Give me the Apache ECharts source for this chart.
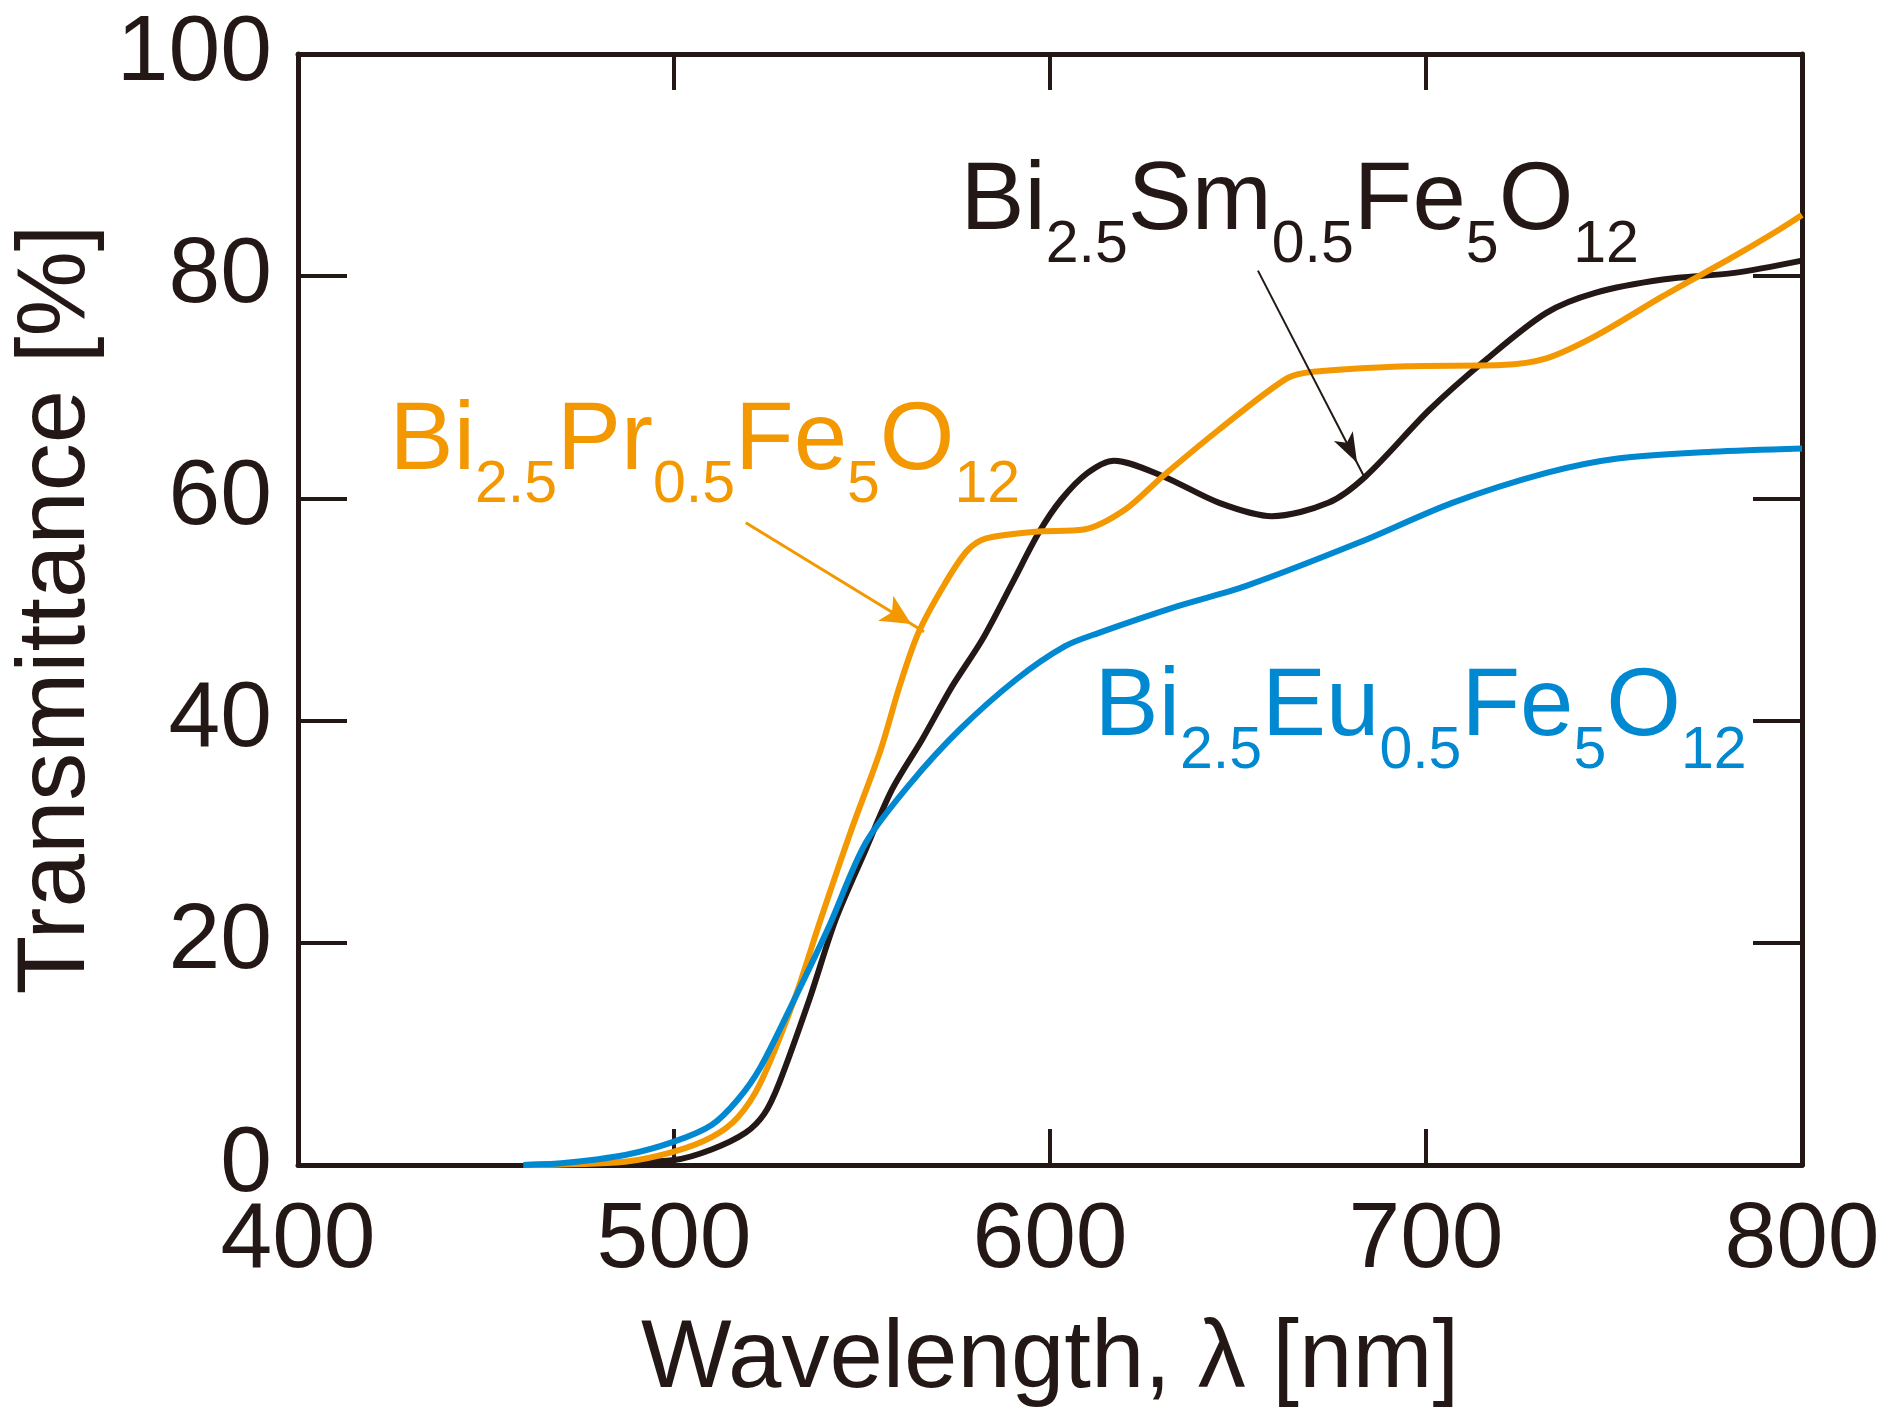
<!DOCTYPE html>
<html>
<head>
<meta charset="utf-8">
<script src="https://cdn.jsdelivr.net/npm/echarts@6/dist/echarts.min.js"></script>
<style>
  html, body { margin: 0; padding: 0; background: #fff; }
  #chart { width: 1891px; height: 1426px; }
</style>
</head>
<body>
<div id="chart"></div>
<script>
// values (wavelength nm, transmittance %)
const wlSm = [460, 480, 500, 510, 519, 524, 528, 536, 543, 551, 558, 566, 574, 582, 590, 597, 603, 610, 617, 630, 645, 659, 674, 684, 701, 716, 732, 745, 763, 782, 800];
const tSm  = [0, 0.15, 0.45, 1.4, 2.9, 4.6, 7.4, 14.9, 22.1, 28.4, 33.8, 38.3, 43.1, 47.3, 52.4, 56.9, 59.9, 62.3, 63.4, 62.0, 59.6, 58.4, 59.6, 62.0, 68.0, 72.5, 76.7, 78.5, 79.7, 80.3, 81.4];

const wlPr = [460, 487, 500, 510, 517, 523, 532, 539, 547, 555, 560, 565, 572, 578, 583, 596, 609, 620, 630, 645, 663, 670, 695, 720, 732, 745, 763, 782, 794, 800];
const tPr  = [0, 0.3, 1.2, 2.5, 4.3, 7.4, 14.9, 22.1, 30.0, 37.4, 43.1, 47.9, 52.3, 55.3, 56.4, 57.0, 57.2, 59.0, 62.0, 66.2, 70.8, 71.4, 71.9, 72.0, 72.6, 74.6, 78.2, 81.8, 84.2, 85.5];

const wlEu = [460, 470, 487, 500, 510, 517, 523, 532, 541, 551, 563, 576, 591, 604, 613, 634, 652, 682, 707, 732, 751, 776, 800];
const tEu  = [0, 0.15, 0.9, 2.1, 3.6, 5.9, 8.8, 14.9, 21.3, 29.0, 34.4, 39.2, 43.7, 46.7, 47.9, 50.3, 52.1, 56.0, 59.6, 62.3, 63.6, 64.2, 64.5];

const xTicks = [400, 500, 600, 700, 800];
const yTicks = [0, 20, 40, 60, 80, 100];

// annotation anchors (top-left of label box) and arrows, in data units
const labelSm = [576.3, 90.9];
const labelPr = [424.5, 69.3];
const labelEu = [612.0, 45.4];
const arrowSm = [[655.3, 80.5], [683.5, 62.0]];
const arrowPr = [[519.1, 57.8], [566.5, 48.0]];

const ink = '#231815';
const orange = '#F39800';
const blue = '#0088D1';
const font = '"Liberation Sans", Arial, Helvetica, sans-serif';

const zip = (xs, ys) => xs.map((x, i) => [x, ys[i]]);

function formula(dopant) {
  return `{m|Bi}{s|2.5}{m|${dopant}}{s|0.5}{m|Fe}{s|5}{m|O}{s|12}`;
}

function richFor(color) {
  return {
    m: { fontSize: 96, lineHeight: 96, verticalAlign: 'top', color, fontFamily: font },
    s: { fontSize: 59, lineHeight: 59, verticalAlign: 'top', color, fontFamily: font, padding: [62, 0, 0, 0] }
  };
}

function labelMark(coord, dopant, color) {
  return {
    silent: true,
    animation: false,
    symbol: 'circle',
    symbolSize: 1,
    itemStyle: { color: 'rgba(0,0,0,0)' },
    label: {
      show: true,
      position: [0, 0],
      align: 'left',
      verticalAlign: 'top',
      formatter: formula(dopant),
      rich: richFor(color)
    },
    data: [{ coord }]
  };
}

function arrowMark(pts, color, width, size) {
  return {
    silent: true,
    animation: false,
    symbol: ['none', 'arrow'],
    symbolSize: size,
    symbolOffset: [0, [0, size[1] / 2]],
    lineStyle: { color, width, type: 'solid' },
    label: { show: false },
    data: [[{ coord: pts[0] }, { coord: pts[1] }]]
  };
}

const axisLine = { show: true, onZero: false, lineStyle: { color: ink, width: 5 } };

const chart = echarts.init(document.getElementById('chart'), null, { renderer: 'canvas' });

chart.setOption({
  animation: false,
  backgroundColor: '#ffffff',
  textStyle: { fontFamily: font },
  grid: { left: 298, top: 54, width: 1504, height: 1111, containLabel: false, outerBoundsMode: 'none' },
  xAxis: [
    {
      type: 'value', min: xTicks[0], max: xTicks[xTicks.length - 1], interval: 100,
      name: 'Wavelength, λ [nm]', nameLocation: 'middle', nameGap: 148,
      nameTextStyle: { fontSize: 96, color: ink, fontFamily: font },
      axisLine,
      axisTick: { inside: true, length: 36, lineStyle: { color: ink, width: 4 } },
      axisLabel: { fontSize: 93, color: ink, margin: 30, fontFamily: font },
      splitLine: { show: false }
    },
    {
      type: 'value', position: 'top', min: xTicks[0], max: xTicks[xTicks.length - 1], interval: 100,
      axisLine,
      axisTick: { inside: true, length: 36, lineStyle: { color: ink, width: 4 } },
      axisLabel: { show: false },
      splitLine: { show: false }
    }
  ],
  yAxis: [
    {
      type: 'value', min: yTicks[0], max: yTicks[yTicks.length - 1], interval: 20,
      name: 'Transmittance [%]', nameLocation: 'middle', nameGap: 186,
      nameTextStyle: { fontSize: 96, color: ink, fontFamily: font },
      axisLine,
      axisTick: { inside: true, length: 49, lineStyle: { color: ink, width: 4 } },
      axisLabel: { fontSize: 93, color: ink, margin: 26, fontFamily: font },
      splitLine: { show: false }
    },
    {
      type: 'value', position: 'right', min: yTicks[0], max: yTicks[yTicks.length - 1], interval: 20,
      axisLine,
      axisTick: { inside: true, length: 49, lineStyle: { color: ink, width: 4 } },
      axisLabel: { show: false },
      splitLine: { show: false }
    }
  ],
  series: [
    {
      name: 'Bi2.5Sm0.5Fe5O12', type: 'line', data: zip(wlSm, tSm),
      showSymbol: false, smooth: 0.3, z: 3,
      lineStyle: { color: ink, width: 6 },
      emphasis: { disabled: true },
      markPoint: labelMark(labelSm, 'Sm', ink),
      markLine: arrowMark(arrowSm, ink, 2, [16, 30])
    },
    {
      name: 'Bi2.5Pr0.5Fe5O12', type: 'line', data: zip(wlPr, tPr),
      showSymbol: false, smooth: 0.3, z: 4,
      lineStyle: { color: orange, width: 6 },
      emphasis: { disabled: true },
      markPoint: labelMark(labelPr, 'Pr', orange),
      markLine: arrowMark(arrowPr, orange, 3, [22, 30])
    },
    {
      name: 'Bi2.5Eu0.5Fe5O12', type: 'line', data: zip(wlEu, tEu),
      showSymbol: false, smooth: 0.3, z: 5,
      lineStyle: { color: blue, width: 6 },
      emphasis: { disabled: true },
      markPoint: labelMark(labelEu, 'Eu', blue)
    }
  ]
});
</script>
</body>
</html>
